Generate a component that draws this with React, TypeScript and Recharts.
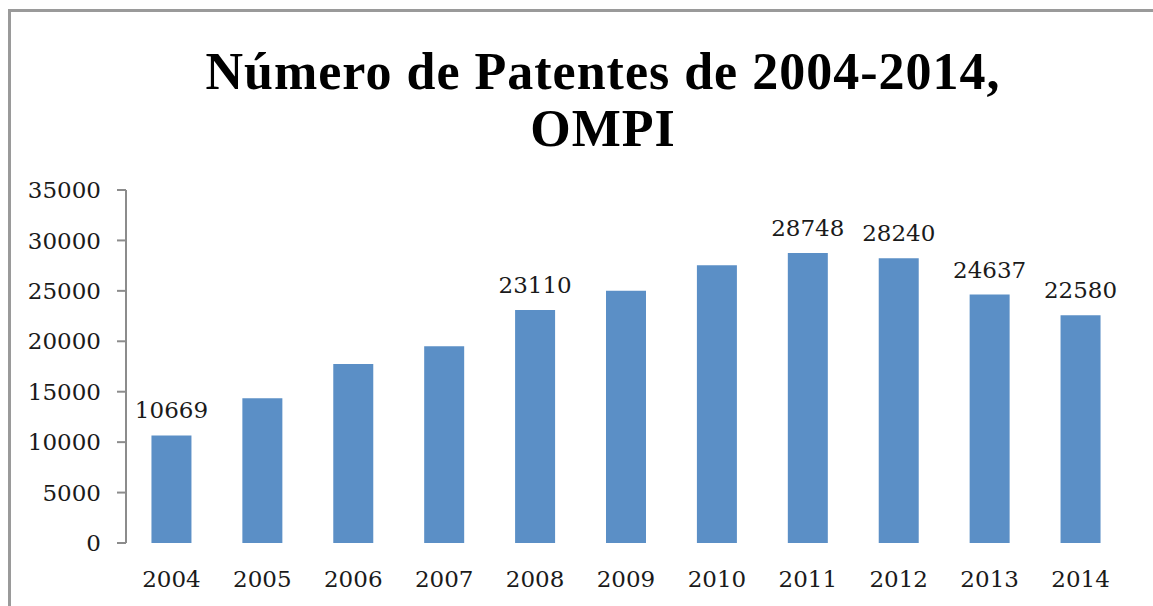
import React from "react";
import { BarChart, Bar, XAxis, YAxis, LabelList } from "recharts";

const years = ["2004", "2005", "2006", "2007", "2008", "2009", "2010", "2011", "2012", "2013", "2014"];
const patents = [10669, 14350, 17750, 19500, 23110, 25000, 27550, 28748, 28240, 24637, 22580];
// only these bars carry a value label in the original
const labeledYears = ["2004", "2008", "2011", "2012", "2013", "2014"];
const yTicks = [0, 5000, 10000, 15000, 20000, 25000, 30000, 35000];

const data = years.map((year, i) => ({ year, value: patents[i], idx: i + 0.5 }));
const boundaryTicks = years.map((_, i) => i).concat([years.length]);

const FONT = "'DejaVu Serif', serif";
const AXIS = "#8c8c8c";

const ValueLabel = (props: any) => {
  const { x, y, width, value, index } = props;
  if (!labeledYears.includes(years[index])) return null;
  return (
    <text
      x={x + width / 2}
      y={y - 17}
      textAnchor="middle"
      fontFamily={FONT}
      fontSize={23}
      fill="#1a1a1a"
    >
      {value}
    </text>
  );
};

const App: React.FC = () => {
  return (
    <div
      style={{
        position: "absolute",
        left: 0,
        top: 0,
        width: 1153,
        height: 606,
        overflow: "hidden",
        background: "#fff",
      }}
    >
      {/* frame, runs off the right and bottom edges */}
      <div
        style={{
          position: "absolute",
          left: 8,
          top: 9,
          width: 1300,
          height: 800,
          border: "3px solid #9a9a9a",
        }}
      />

      <div
        style={{
          position: "absolute",
          left: 0,
          top: 43,
          width: 1206,
          textAlign: "center",
          fontFamily: "'Liberation Serif', serif",
          fontWeight: "bold",
          fontSize: 52,
          letterSpacing: 1,
          lineHeight: "57px",
          color: "#000",
        }}
      >
        Número de Patentes de 2004-2014,
        <br />
        OMPI
      </div>

      <div style={{ position: "absolute", left: 0, top: 0 }}>
        <BarChart
          width={1153}
          height={606}
          data={data}
          margin={{ top: 190, right: 27, left: 0, bottom: 0 }}
          barCategoryGap="28%"
        >
          <XAxis
            xAxisId="grid"
            type="number"
            dataKey="idx"
            domain={[0, years.length]}
            ticks={boundaryTicks}
            tick={false}
            height={0}
            axisLine={{ stroke: AXIS, strokeWidth: 2 }}
            tickLine={{ stroke: AXIS, strokeWidth: 2 }}
            tickSize={9}
          />
          <XAxis
            xAxisId="cat"
            dataKey="year"
            height={63}
            axisLine={false}
            tickLine={false}
            tickSize={0}
            tickMargin={28}
            interval={0}
            tick={{ fontFamily: FONT, fontSize: 23, fill: "#1a1a1a" }}
          />
          <YAxis
            width={126}
            domain={[0, 35000]}
            ticks={yTicks}
            interval={0}
            axisLine={{ stroke: AXIS, strokeWidth: 2 }}
            tickLine={{ stroke: AXIS, strokeWidth: 2 }}
            tickSize={9}
            tickMargin={16}
            tick={{ fontFamily: FONT, fontSize: 23, fill: "#1a1a1a" }}
          />
          <Bar
            xAxisId="cat"
            dataKey="value"
            fill="#5b8fc6"
            isAnimationActive={false}
          >
            <LabelList dataKey="value" content={<ValueLabel />} />
          </Bar>
        </BarChart>
      </div>
    </div>
  );
};

export default App;
